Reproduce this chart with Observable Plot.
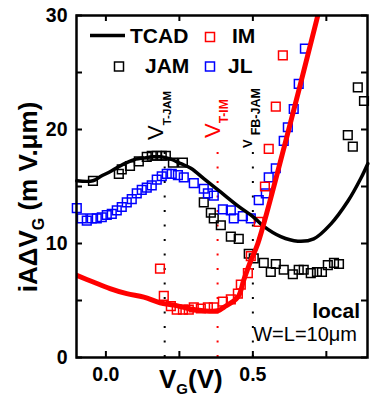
<!DOCTYPE html>
<html><head><meta charset="utf-8">
<script src="https://cdn.jsdelivr.net/npm/d3@7"></script>
<script src="https://cdn.jsdelivr.net/npm/@observablehq/plot@0.6"></script>
<style>
html,body{margin:0;padding:0;background:#fff;}
#chart{width:370px;height:405px;}
</style></head><body><div id="chart"></div>
<script>
// axis settings
const xDomain = [-0.1, 0.89];
const yDomain = [0, 30];
const xTickLabels = [0, 0.5];
const xTickMarks = [0, 0.25, 0.5, 0.75];
const yTickLabels = [0, 10, 20, 30];
const yTickMarks = [0, 5, 10, 15, 20, 25, 30];

// TCAD simulation curve (black line)
const tcadX = [-0.099,-0.044,-0.017,0.014,0.041,0.071,0.102,0.129,0.160,0.187,0.221,0.255,0.289,0.333,0.391,0.449,0.503,0.537,0.595,0.653,0.707,0.765,0.823,0.867,0.891];
const tcadY = [15.5,15.5,15.9,16.3,16.7,17.1,17.4,17.5,17.6,17.6,17.4,17.0,16.6,15.7,14.5,13.3,12.3,11.5,10.6,10.2,10.4,11.7,13.7,15.7,17.0];

// IM model curve (red thick line)
const imLineX = [-0.099,-0.041,0.014,0.071,0.129,0.184,0.231,0.279,0.333,0.381,0.401,0.449,0.469,0.493,0.517,0.612,0.721];
const imLineY = [7.2,6.6,6.05,5.6,5.3,4.8,4.6,4.3,4.1,4.1,4.4,5.3,6.8,8.5,10.0,19.0,30.0];

// JAM measurements (black squares)
const jamX = [-0.044,0.044,0.054,0.082,0.112,0.139,0.156,0.173,0.190,0.204,0.228,0.262,0.333,0.357,0.367,0.391,0.425,0.452,0.486,0.503,0.537,0.561,0.578,0.605,0.636,0.656,0.673,0.697,0.718,0.735,0.755,0.776,0.793,0.823,0.840,0.857,0.878];
const jamY = [15.5,16.1,16.5,16.8,17.2,17.6,17.7,17.7,17.7,17.7,17.1,17.1,13.6,12.7,12.2,11.6,10.6,10.4,9.1,8.7,8.3,7.5,8.2,7.7,7.3,7.7,7.7,7.4,7.5,7.5,8.1,8.3,8.2,19.5,18.5,23.7,22.5];

// IM measurements (red squares)
const imX = [0.184,0.197,0.221,0.241,0.262,0.282,0.299,0.323,0.347,0.367,0.398,0.425,0.449,0.459,0.483,0.493,0.520,0.541,0.554,0.578,0.602];
const imY = [7.8,5.4,4.5,4.2,4.2,4.2,4.4,4.3,4.4,4.4,4.9,5.1,5.6,6.4,7.4,8.9,11.9,15.0,18.3,22.0,26.5];

// JL measurements (blue squares)
const jlX = [-0.099,-0.082,-0.065,-0.048,-0.031,-0.014,0.003,0.020,0.037,0.054,0.071,0.088,0.105,0.122,0.139,0.156,0.173,0.190,0.207,0.224,0.245,0.265,0.299,0.333,0.347,0.367,0.398,0.425,0.435,0.466,0.493,0.520,0.544,0.554,0.578,0.605,0.619,0.639,0.656,0.677];
const jlY = [13.1,12.2,12.0,12.2,12.2,12.3,12.5,12.6,12.9,13.2,13.6,13.9,14.4,14.7,14.9,15.1,15.6,15.9,16.1,16.1,16.0,15.8,15.3,14.8,14.4,14.2,13.0,12.9,12.2,12.4,12.2,13.8,14.4,15.8,16.6,19.0,20.2,21.8,24.0,27.1];

// threshold markers
const vLineX = [0.2, 0.38, 0.5];
const vLineTop = [18.2, 18.0, 18.0];
const vLineColor = ["black", "#ff0000", "black"];

const zip = (xs, ys) => xs.map((x, i) => ({x, y: ys[i]}));
const tcad = zip(tcadX, tcadY);
const imLine = zip(imLineX, imLineY);
const jam = zip(jamX, jamY);
const im = zip(imX, imY);
const jl = zip(jlX, jlY);
const vLines = vLineX.map((x, i) => ({x, top: vLineTop[i], color: vLineColor[i]}));

const RED = "#ff0000", BLUE = "#0000ff";
const sq = {symbol: "square", r: 4.9, fill: "none", strokeWidth: 1.5};

const plot = Plot.plot({
  width: 370, height: 405,
  marginLeft: 76, marginRight: 3, marginTop: 15, marginBottom: 48,
  style: {fontFamily: "'Liberation Sans', Arial, sans-serif", fontSize: "19.5px", fontWeight: "bold", background: "white", color: "black", overflow: "visible"},
  x: {domain: xDomain, ticks: xTickLabels, tickFormat: d3.format(".1f"), tickSize: 0, tickPadding: 10, label: null},
  y: {domain: yDomain, ticks: yTickLabels, tickSize: 0, tickPadding: 9, label: null},
  marks: [
    Plot.ruleX(vLines, {x: "x", y1: 0, y2: "top", stroke: d => d.color, strokeWidth: 2, strokeDasharray: "2,12.5"}),
    Plot.dot(jam, {x: "x", y: "y", stroke: "black", ...sq}),
    Plot.dot(jl, {x: "x", y: "y", stroke: BLUE, ...sq}),
    Plot.dot(im, {x: "x", y: "y", stroke: RED, ...sq}),
    Plot.line(tcad, {x: "x", y: "y", stroke: "black", strokeWidth: 3.5, curve: "catmull-rom"}),
    Plot.line(imLine, {x: "x", y: "y", stroke: RED, strokeWidth: 5, curve: "catmull-rom", clip: true}),
    Plot.tickX(xTickMarks, {insetTop: 336, stroke: "black", strokeWidth: 2}),
    Plot.tickX(xTickMarks, {insetBottom: 336, stroke: "black", strokeWidth: 2}),
    Plot.tickY(yTickMarks, {insetRight: 285, stroke: "black", strokeWidth: 2}),
    Plot.tickY(yTickMarks, {insetLeft: 285, stroke: "black", strokeWidth: 2}),
    Plot.frame({stroke: "black", strokeWidth: 2.5})
  ]
});
document.getElementById("chart").appendChild(plot);

const svg = d3.select(plot);
const FONT = "'Liberation Sans', Arial, sans-serif";

function txt(x, y, parts, opts = {}) {
  const g = svg.append("g").attr("transform", `translate(${x},${y})` + (opts.rotate ? ` rotate(${opts.rotate})` : ""));
  const t = g.append("text").attr("font-family", FONT).attr("text-anchor", opts.anchor || "start")
    .attr("fill", opts.fill || "black");
  parts.forEach(p => {
    const s = t.append("tspan").text(p.t).attr("font-size", p.size + "px").attr("font-weight", p.weight || "bold");
    if (p.dy) s.attr("dy", p.dy);
    if (p.dx) s.attr("dx", p.dx);
  });
  return t;
}

// legend
svg.append("line").attr("x1", 90).attr("x2", 125).attr("y1", 35.5).attr("y2", 35.5).attr("stroke", "black").attr("stroke-width", 3.5);
txt(130, 43, [{t: "TCAD", size: 21}]);
svg.append("rect").attr("x", 205.5).attr("y", 32.5).attr("width", 9).attr("height", 9).attr("fill", "none").attr("stroke", RED).attr("stroke-width", 1.5);
txt(232, 43, [{t: "IM", size: 21}]);
svg.append("rect").attr("x", 114.5).attr("y", 62).attr("width", 9).attr("height", 9).attr("fill", "none").attr("stroke", "black").attr("stroke-width", 1.5);
txt(145, 73, [{t: "JAM", size: 21}]);
svg.append("rect").attr("x", 205.5).attr("y", 62).attr("width", 9).attr("height", 9).attr("fill", "none").attr("stroke", BLUE).attr("stroke-width", 1.5);
txt(228, 73, [{t: "JL", size: 21}]);

// threshold labels
txt(163, 140, [{t: "V", size: 22, weight: "normal"}, {t: "T-JAM", size: 11.5, dy: 8}], {rotate: -90});
txt(220, 138, [{t: "V", size: 22, weight: "normal"}, {t: "T-IM", size: 12, dy: 8}], {rotate: -90, fill: RED});
txt(252, 148, [{t: "V", size: 13, weight: "bold"}, {t: "FB-JAM", size: 12.5, dy: 8, dx: 4}], {rotate: -90});

// annotations
txt(360, 318, [{t: "local", size: 21}], {anchor: "end"});
txt(357, 341, [{t: "W=L=10μm", size: 20, weight: "normal"}], {anchor: "end"});

// axis titles
txt(159, 388, [{t: "V", size: 26}, {t: "G", size: 15, dy: 6}, {t: "(V)", size: 26, dy: -6}]);
txt(37, 197, [{t: "iAΔV", size: 26}, {t: "G", size: 16, dy: 7}, {t: " (m V.μm)", size: 26, dy: -7}], {rotate: -90, anchor: "middle"});
</script>
</body></html>
